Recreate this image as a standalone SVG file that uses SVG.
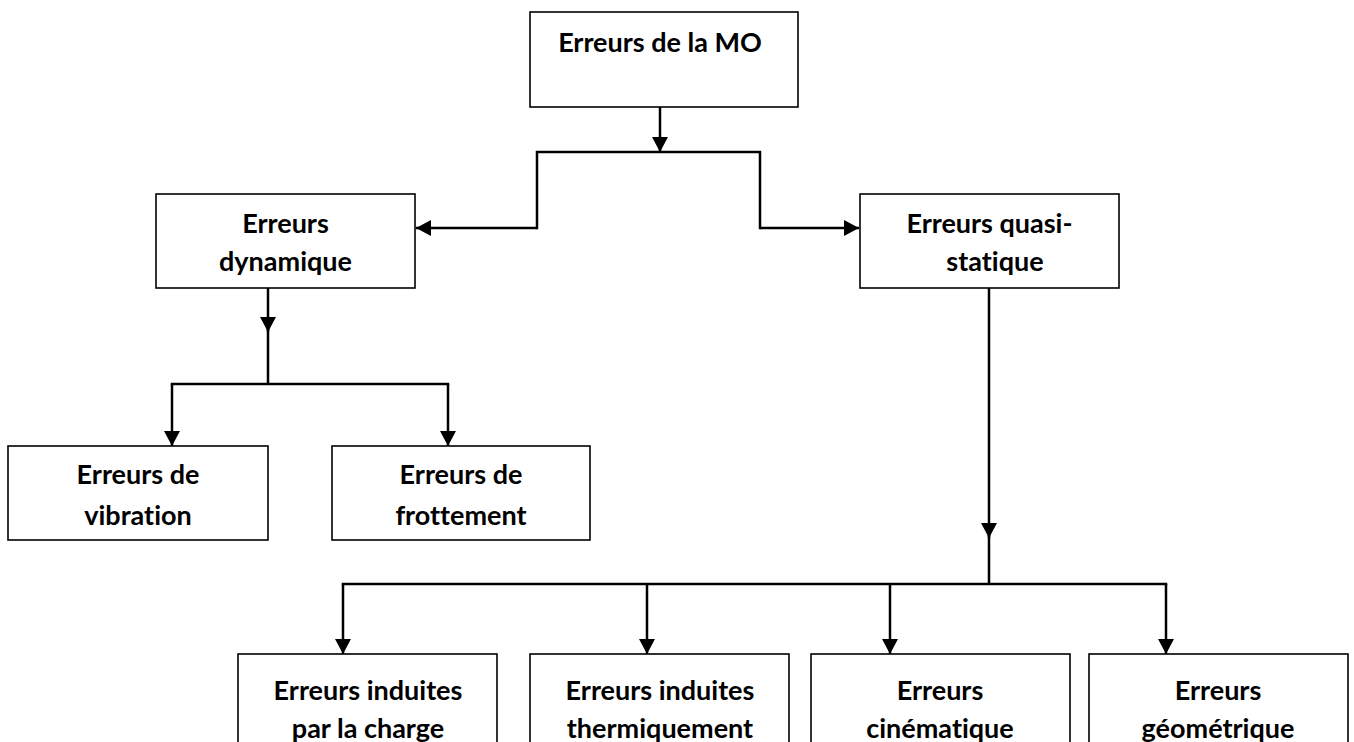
<svg xmlns="http://www.w3.org/2000/svg" width="1354" height="742" viewBox="0 0 1354 742">
  <style>
    .box { fill: #ffffff; stroke: #000000; stroke-width: 1.6; }
    .lbl { font-family: Lato, "Liberation Sans", sans-serif; font-weight: 700; font-size: 27px; fill: #000000; text-anchor: middle; font-variant-ligatures: none; font-feature-settings: "liga" 0, "clig" 0; }
    .wire { fill: none; stroke: #000000; stroke-width: 2.5; stroke-linejoin: miter; stroke-linecap: square; }
    .tip { fill: none; stroke: #000000; stroke-width: 2.5; marker-end: url(#head); }
  </style>
  <defs>
    <marker id="head" viewBox="0 0 15 16" refX="15" refY="8" markerWidth="15" markerHeight="16" markerUnits="userSpaceOnUse" orient="auto">
      <path d="M0,0 L15,8 L0,16 Z" fill="#000000"/>
    </marker>
  </defs>

  <rect width="1354" height="742" fill="#ffffff"/>

  <g id="connectors">
    <!-- root to its two branches -->
    <path class="tip" d="M660,107 V152"/>
    <path class="wire" d="M537,228 V152 H760 V228"/>
    <path class="tip" d="M537,228 H416"/>
    <path class="tip" d="M760,228 H859"/>
    <!-- dynamic branch -->
    <path class="tip" d="M268,288 V332"/>
    <path class="wire" d="M268,330 V384 M172,384 H448"/>
    <path class="tip" d="M172,384 V446"/>
    <path class="tip" d="M448,384 V446"/>
    <!-- quasi-static branch -->
    <path class="tip" d="M989,288 V538"/>
    <path class="wire" d="M989,536 V584 M343,584 H1166"/>
    <path class="tip" d="M343,584 V654"/>
    <path class="tip" d="M647,584 V654"/>
    <path class="tip" d="M890,584 V654"/>
    <path class="tip" d="M1166,584 V654"/>
  </g>

  <g id="node-root">
    <rect class="box" x="530" y="12" width="268" height="95"/>
    <text class="lbl" x="660" y="52">Erreurs de la MO</text>
  </g>

  <g id="node-dynamique">
    <rect class="box" x="156" y="194" width="259" height="94"/>
    <text class="lbl" x="285.5" y="233">Erreurs</text>
    <text class="lbl" x="285.5" y="271">dynamique</text>
  </g>

  <g id="node-quasi-statique">
    <rect class="box" x="860" y="194" width="259" height="94"/>
    <text class="lbl" x="989.5" y="233">Erreurs quasi-</text>
    <text class="lbl" x="995" y="271">statique</text>
  </g>

  <g id="node-vibration">
    <rect class="box" x="8" y="446" width="260" height="94"/>
    <text class="lbl" x="138" y="484">Erreurs de</text>
    <text class="lbl" x="138" y="525">vibration</text>
  </g>

  <g id="node-frottement">
    <rect class="box" x="332" y="446" width="258" height="94"/>
    <text class="lbl" x="461" y="484">Erreurs de</text>
    <text class="lbl" x="461" y="525">frottement</text>
  </g>

  <g id="node-charge">
    <rect class="box" x="238" y="654" width="259" height="100"/>
    <text class="lbl" x="368" y="700">Erreurs induites</text>
    <text class="lbl" x="368" y="738">par la charge</text>
  </g>

  <g id="node-thermique">
    <rect class="box" x="530" y="654" width="259" height="100"/>
    <text class="lbl" x="660" y="700">Erreurs induites</text>
    <text class="lbl" x="660" y="738">thermiquement</text>
  </g>

  <g id="node-cinematique">
    <rect class="box" x="811" y="654" width="259" height="100"/>
    <text class="lbl" x="940" y="700">Erreurs</text>
    <text class="lbl" x="940" y="738">cinématique</text>
  </g>

  <g id="node-geometrique">
    <rect class="box" x="1089" y="654" width="259" height="100"/>
    <text class="lbl" x="1218" y="700">Erreurs</text>
    <text class="lbl" x="1218" y="738">géométrique</text>
  </g>
</svg>
